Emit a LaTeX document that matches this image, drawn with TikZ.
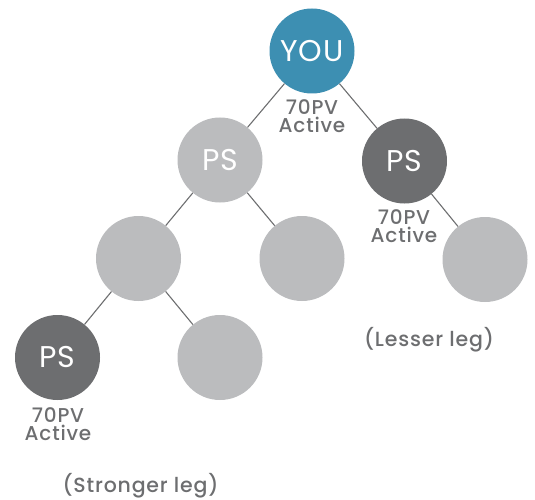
\documentclass[tikz,border=0pt]{standalone}
\usepackage{fontspec}
\setmainfont{Poppins}[UprightFont=* Medium]
\newfontfamily\legfont{Poppins}[UprightFont=* Medium,LetterSpace=4]
\newfontfamily\circfont{Poppins}[LetterSpace=2]
\definecolor{youblue}{HTML}{3D8FB2}
\definecolor{darkps}{HTML}{6D6E70}
\definecolor{lightps}{HTML}{BBBCBE}
\definecolor{txtgray}{HTML}{6D6E70}
\begin{document}
\begin{tikzpicture}[x=1pt,y=-1pt,
  member/.style={circle,minimum size=85pt,inner sep=0pt,text=white,font=\circfont\fontsize{30}{32}\selectfont},
  you/.style={member,fill=youblue},
  dark/.style={member,fill=darkps},
  light/.style={member,fill=lightps},
  link/.style={draw=darkps,line width=1.1pt},
  pv/.style={text=txtgray,align=center,font=\legfont\fontsize{20}{18.5}\selectfont},
  leg/.style={text=txtgray,font=\legfont\fontsize{20.5}{20}\selectfont}]
\useasboundingbox (0,0) rectangle (535,500);
\node[you] (you) at (312,51) {YOU};
\node[light] (psl) at (220,160) {PS};
\node[dark] (psr) at (404.5,161) {PS};
\node[light] (l3a) at (138.5,258.5) {};
\node[light] (l3b) at (302,258.5) {};
\node[light] (r3) at (485,259.5) {};
\node[dark] (ps4) at (57.5,357.5) {PS};
\node[light] (l4b) at (220,357.5) {};
\node[pv] (pvyou) at (312,116) {70PV\\Active};
\node[pv] (pvr) at (404,226) {70PV\\Active};
\node[pv] (pv4) at (58,424) {70PV\\Active};
\node[leg] (lesser) at (429,340) {(Lesser leg)};
\node[leg] (stronger) at (140.5,485.5) {(Stronger leg)};
\draw[link] (you) -- (psl);
\draw[link] (you) -- (psr);
\draw[link] (psl) -- (l3a);
\draw[link] (psl) -- (l3b);
\draw[link] (psr) -- (r3);
\draw[link] (l3a) -- (ps4);
\draw[link] (l3a) -- (l4b);
\end{tikzpicture}
\end{document}
